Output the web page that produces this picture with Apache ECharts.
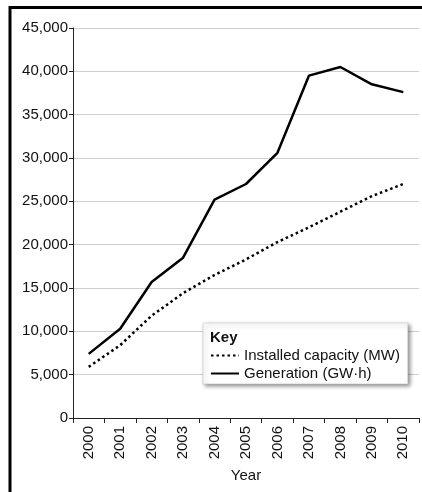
<!DOCTYPE html>
<html><head><meta charset="utf-8">
<script src="https://cdn.jsdelivr.net/npm/echarts@6/dist/echarts.min.js"></script>
<style>html,body{margin:0;padding:0;background:#fff}#c{width:422px;height:492px}</style>
</head><body><div id="c"></div>
<script>
var years = ['2000','2001','2002','2003','2004','2005','2006','2007','2008','2009','2010'];
var capacity = [5900, 8400, 11800, 14400, 16500, 18300, 20300, 22000, 23800, 25600, 27000];
var generation = [7400, 10300, 15700, 18500, 25200, 27000, 30600, 39500, 40500, 38500, 37600];
var capacityName = 'Installed capacity (MW)';
var generationName = 'Generation (GW·h)';
var yTicks = {min: 0, max: 45000, interval: 5000};

var FONT = '"Liberation Sans", Arial, sans-serif';
var chart = echarts.init(document.getElementById('c'), null, {renderer: 'canvas'});
chart.setOption({
  animation: false,
  textStyle: {fontFamily: FONT},
  grid: {left: 73, right: 3, top: 28, bottom: 74, containLabel: false},
  xAxis: {
    type: 'category', data: years, boundaryGap: true,
    name: 'Year', nameLocation: 'middle', nameGap: 50,
    nameTextStyle: {fontFamily: FONT, fontSize: 15, color: '#111'},
    axisLine: {lineStyle: {color: '#222', width: 1}},
    axisTick: {show: true, length: 5, alignWithLabel: false, lineStyle: {color: '#222'}},
    axisLabel: {rotate: 90, fontFamily: FONT, fontSize: 15, color: '#111', margin: 8}
  },
  yAxis: {
    type: 'value', min: yTicks.min, max: yTicks.max, interval: yTicks.interval,
    axisLine: {show: true, lineStyle: {color: '#222', width: 1}},
    axisTick: {show: true, length: 4, lineStyle: {color: '#222'}},
    splitLine: {lineStyle: {color: '#cfcfcf', width: 1}},
    axisLabel: {fontFamily: FONT, fontSize: 15, color: '#111', margin: 5,
      formatter: function(v){ return v.toLocaleString('en-US'); }}
  },
  legend: {
    orient: 'vertical', left: 203, top: 323, width: 202,
    padding: [25, 8, 3, 7], itemGap: 3, itemWidth: 28, itemHeight: 14,
    backgroundColor: '#fff', borderColor: '#bbb', borderWidth: 0.5,
    shadowColor: 'rgba(0,0,0,0.45)', shadowBlur: 4, shadowOffsetX: 2, shadowOffsetY: 2,
    itemStyle: {color: 'rgba(0,0,0,0)', borderWidth: 0},
    textStyle: {fontFamily: FONT, fontSize: 15, color: '#111'},
    data: [capacityName, generationName]
  },
  graphic: [
    {type: 'text', left: 210, top: 330, z: 100,
     style: {text: 'Key', font: 'bold 15px "Liberation Sans", Arial, sans-serif', fill: '#111'}},
    {type: 'line', shape: {x1: 9, y1: 7.5, x2: 422, y2: 7.5}, style: {stroke: '#000', lineWidth: 3}},
    {type: 'line', shape: {x1: 10, y1: 6, x2: 10, y2: 492}, style: {stroke: '#000', lineWidth: 3}}
  ],
  series: [
    {name: capacityName, type: 'line', data: capacity, symbol: 'none', showSymbol: false,
     lineStyle: {color: '#000', width: 2.5, type: [2.5, 3]}, itemStyle: {color: '#000'}},
    {name: generationName, type: 'line', data: generation, symbol: 'none', showSymbol: false,
     lineStyle: {color: '#000', width: 2.5}, itemStyle: {color: '#000'}}
  ]
});
</script></body></html>
